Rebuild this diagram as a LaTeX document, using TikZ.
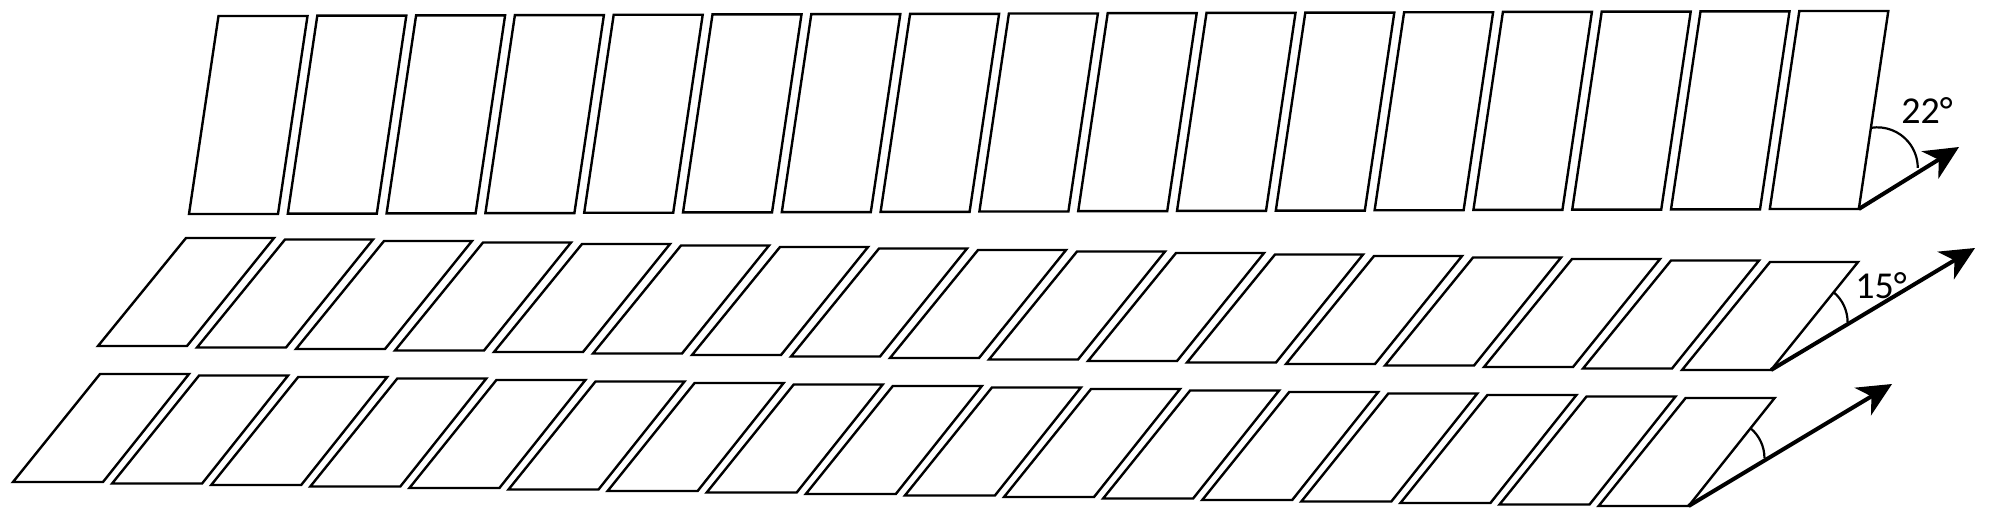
\documentclass[tikz,border=0pt]{standalone}
\usepackage{fontspec}
\setmainfont{Carlito}
\usetikzlibrary{arrows.meta,calc}
\begin{document}
\begin{tikzpicture}[x=0.5pt,y=-0.5pt,
  panel/.style={draw=black,line width=1.2pt,line join=miter},
  dirarrow/.style={draw=black,line width=2pt,-{Stealth[length=17pt,width=16pt,inset=5pt]}},
  anglearc/.style={draw=black,line width=1.1pt},
  anglelabel/.style={inner sep=0pt,anchor=base west,font=\fontsize{19}{23}\selectfont}]
\useasboundingbox (0,0) rectangle (2000,515);
% top row
\foreach \i in {0,...,16}{
  \pgfmathsetmacro{\bx}{189+98.8*\i}
  \pgfmathsetmacro{\by}{214-0.3125*\i}
  \draw[panel] (\bx,\by) coordinate (t\i-bl) -- ++(89,0) coordinate (t\i-br)
     -- ++(29.5,-198) coordinate (t\i-tr) -- ++(-89,0) coordinate (t\i-tl) -- cycle;
}
% middle row
\foreach \i in {0,...,16}{
  \pgfmathsetmacro{\bx}{98+99*\i}
  \pgfmathsetmacro{\by}{346+1.5*\i}
  \draw[panel] (\bx,\by) coordinate (m\i-bl) -- ++(89,0) coordinate (m\i-br)
     -- ++(87,-108) coordinate (m\i-tr) -- ++(-88,0) coordinate (m\i-tl) -- cycle;
}
% bottom row
\foreach \i in {0,...,16}{
  \pgfmathsetmacro{\bx}{13+99.1*\i}
  \pgfmathsetmacro{\by}{482+1.5*\i}
  \draw[panel] (\bx,\by) coordinate (b\i-bl) -- ++(90,0) coordinate (b\i-br)
     -- ++(86,-108) coordinate (b\i-tr) -- ++(-89,0) coordinate (b\i-tl) -- cycle;
}
% arrows
\coordinate (topTip) at (1959,147);
\coordinate (midTip) at (1975,248);
\coordinate (botTip) at (1892,384);
\draw[dirarrow] (t16-br) -- (topTip);
\draw[dirarrow] (m16-br) -- (midTip);
\draw[dirarrow] (b16-br) -- (botTip);
% angle arcs
\draw[anglearc] ($(t16-br)!0.41!(t16-tr)$) arc[start angle=99,end angle=0,radius=20.25pt];
\draw[anglearc] ($(m16-br)!0.72!(m16-tr)$) arc[start angle=50,end angle=0,radius=19.5pt];
\draw[anglearc] ($(b16-br)!0.72!(b16-tr)$) arc[start angle=50,end angle=0,radius=19.5pt];
% labels
\node[anglelabel] (lab22) at (1901,123) {22°};
\node[anglelabel] (lab15) at (1855,298) {15°};
\end{tikzpicture}
\end{document}
